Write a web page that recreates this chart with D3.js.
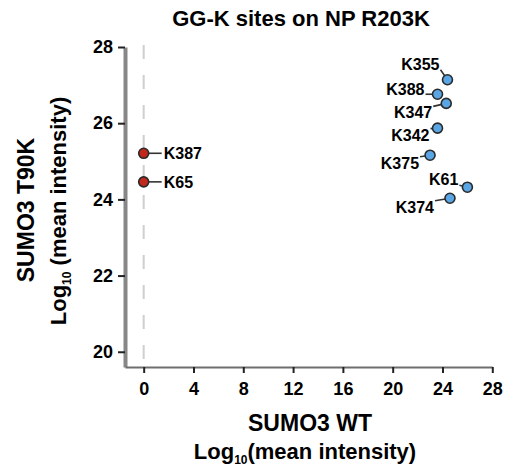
<!DOCTYPE html>
<html>
<head>
<meta charset="utf-8">
<script src="https://cdn.jsdelivr.net/npm/d3@7"></script>
<style>
  html, body { margin: 0; padding: 0; background: #fff; }
  svg { display: block; font-family: "Liberation Sans", Arial, sans-serif; }
</style>
</head>
<body>
<svg id="chart" width="505" height="470"></svg>
<script>
// ---- data ----
const blueLabels = ["K355", "K388", "K347", "K342", "K375", "K61", "K374"];
const blueWT     = [24.4, 23.6, 24.3, 23.6, 23.0, 26.0, 24.6];
const blueT90K   = [27.14, 26.76, 26.52, 25.87, 25.16, 24.32, 24.03];
const redLabels  = ["K387", "K65"];
const redWT      = [0, 0];
const redT90K    = [25.21, 24.46];
const xTicks = [0, 4, 8, 12, 16, 20, 24, 28];
const yTicks = [20, 22, 24, 26, 28];
const titleText = "GG-K sites on NP R203K";
const xTitle = "SUMO3 WT";
const yTitle = "SUMO3 T90K";

// label layout (pixel offsets of label end/start relative to the point)
const blueLabelOffsets = [[-8, -16], [-13, -5.5], [-14, 9], [-8, 6.5], [-11, 7.5], [-9, -8], [-16, 8.5]];
const redLabelOffset = [20, 0];

const svg = d3.select("#chart");
const x = d3.scaleLinear().domain([-1.5, 28]).range([125, 492.3]);
const y = d3.scaleLinear().domain([19.6, 28]).range([367, 47]);

// dashed zero line
svg.append("line")
  .attr("x1", x(0)).attr("x2", x(0))
  .attr("y1", y(28) - 2).attr("y2", y.range()[0])
  .attr("stroke", "#cfcfcf").attr("stroke-width", 2)
  .attr("stroke-dasharray", "14 16");

// axes
const yAxis = svg.append("g").attr("transform", `translate(${x.range()[0]},0)`)
  .call(d3.axisLeft(y).tickValues(yTicks).tickSize(7).tickSizeOuter(0).tickPadding(5).tickFormat(d3.format("d")));
yAxis.select(".domain").attr("stroke", "#878787").attr("stroke-width", 4);
yAxis.selectAll(".tick line").attr("stroke", "#222").attr("stroke-width", 2);
yAxis.selectAll(".tick text").attr("font-size", 18).attr("font-weight", "bold").attr("fill", "#000")
  .attr("font-family", "Liberation Sans, Arial, sans-serif");

const xAxis = svg.append("g").attr("transform", `translate(0,${y.range()[0]})`)
  .call(d3.axisBottom(x).tickValues(xTicks).tickSize(6).tickSizeOuter(0).tickPadding(9).tickFormat(d3.format("d")));
xAxis.select(".domain").attr("stroke", "#6e6e6e").attr("stroke-width", 2);
xAxis.selectAll(".tick line").attr("stroke", "#222").attr("stroke-width", 2);
xAxis.selectAll(".tick text").attr("font-size", 18).attr("font-weight", "bold").attr("fill", "#000")
  .attr("font-family", "Liberation Sans, Arial, sans-serif");

// title
svg.append("text").attr("x", 301).attr("y", 26).attr("text-anchor", "middle")
  .attr("font-size", 22).attr("font-weight", "bold").text(titleText);

// x title
svg.append("text").attr("x", 310).attr("y", 431).attr("text-anchor", "middle")
  .attr("font-size", 23).attr("font-weight", "bold").text(xTitle);
const xt2 = svg.append("text").attr("x", 305).attr("y", 459).attr("text-anchor", "middle")
  .attr("font-size", 22).attr("font-weight", "bold");
xt2.append("tspan").text("Log");
xt2.append("tspan").attr("font-size", 12).attr("dy", 5).text("10");
xt2.append("tspan").attr("dy", -5).text("(mean intensity)");

// y title
svg.append("text").attr("transform", "translate(34,210) rotate(-90)").attr("text-anchor", "middle")
  .attr("font-size", 23).attr("font-weight", "bold").text(yTitle);
const yt2 = svg.append("text").attr("transform", "translate(66,211) rotate(-90)").attr("text-anchor", "middle")
  .attr("font-size", 22).attr("font-weight", "bold");
yt2.append("tspan").text("Log");
yt2.append("tspan").attr("font-size", 12).attr("dy", 5).text("10");
yt2.append("tspan").attr("dy", -5).text(" (mean intensity)");

// points
const blue = blueLabels.map((l, i) => ({ label: l, wt: blueWT[i], t: blueT90K[i], off: blueLabelOffsets[i] }));
const red = redLabels.map((l, i) => ({ label: l, wt: redWT[i], t: redT90K[i], off: redLabelOffset }));

const gB = svg.append("g");
blue.forEach(d => {
  const px = x(d.wt), py = y(d.t);
  const [dx, dy] = d.off;
  const sy = py + dy - Math.sign(dy) * Math.min(Math.abs(dy), 6);
  gB.append("line").attr("x1", px + dx + 1).attr("y1", sy).attr("x2", px).attr("y2", py)
    .attr("stroke", "#333").attr("stroke-width", 1.6);
  gB.append("text").attr("x", px + dx).attr("y", py + dy + 6).attr("text-anchor", "end")
    .attr("font-size", 16).attr("font-weight", "bold").text(d.label);
});
gB.selectAll("circle").data(blue).join("circle")
  .attr("cx", d => x(d.wt)).attr("cy", d => y(d.t)).attr("r", 5)
  .attr("fill", "#5aa5e3").attr("stroke", "#2a2a2a").attr("stroke-width", 1.6);

const gR = svg.append("g");
red.forEach(d => {
  const px = x(d.wt), py = y(d.t);
  const [dx, dy] = d.off;
  gR.append("line").attr("x1", px).attr("y1", py).attr("x2", px + dx - 2).attr("y2", py + dy)
    .attr("stroke", "#333").attr("stroke-width", 1.6);
  gR.append("text").attr("x", px + dx).attr("y", py + dy + 6).attr("text-anchor", "start")
    .attr("font-size", 16).attr("font-weight", "bold").text(d.label);
});
gR.selectAll("circle").data(red).join("circle")
  .attr("cx", d => x(d.wt)).attr("cy", d => y(d.t)).attr("r", 5)
  .attr("fill", "#c0281c").attr("stroke", "#2a2a2a").attr("stroke-width", 1.6);
</script>
</body>
</html>
